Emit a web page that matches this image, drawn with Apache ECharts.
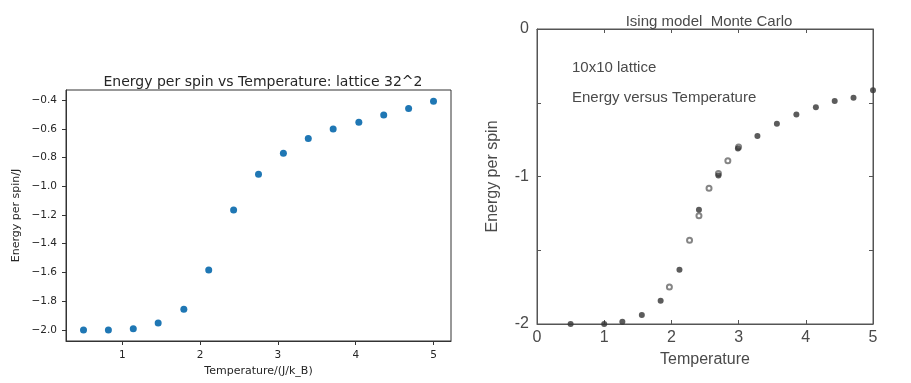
<!DOCTYPE html>
<html><head><meta charset="utf-8">
<script src="https://cdn.jsdelivr.net/npm/echarts@6/dist/echarts.min.js"></script>
<style>html,body{margin:0;padding:0;background:#fff}#c{width:911px;height:383px}</style>
</head><body><div id="c"></div>
<script>
// Left chart: lattice 32^2 simulation
var leftTemps = [0.5, 0.82, 1.14, 1.46, 1.79, 2.11, 2.43, 2.75, 3.07, 3.39, 3.71, 4.04, 4.36, 4.68, 5.0];
var leftEnergy = [-2.0, -2.0, -1.991, -1.951, -1.856, -1.583, -1.165, -0.917, -0.771, -0.667, -0.602, -0.555, -0.504, -0.458, -0.409];
var leftXTicks = [1, 2, 3, 4, 5];
var leftYTicks = [-2.0, -1.8, -1.6, -1.4, -1.2, -1.0, -0.8, -0.6, -0.4];
// Right chart: 10x10 lattice reference (filled and open markers)
var rightTempsFilled = [0.5, 1.0, 1.27, 1.56, 1.84, 2.12, 2.41, 2.70, 2.99, 3.28, 3.57, 3.86, 4.15, 4.43, 4.71, 5.0];
var rightEnergyFilled = [-2.0, -2.0, -1.984, -1.939, -1.842, -1.632, -1.225, -0.994, -0.811, -0.725, -0.642, -0.579, -0.531, -0.488, -0.466, -0.416];
var rightTempsOpen = [1.97, 2.27, 2.41, 2.56, 2.70, 2.84, 3.0];
var rightEnergyOpen = [-1.749, -1.433, -1.266, -1.080, -0.979, -0.893, -0.80];

function pairs(xs, ys){ return xs.map(function(x,i){return [x, ys[i]];}); }
function mpl(v){ return v.toFixed(1).replace('-', '\u2212'); }

var chart = echarts.init(document.getElementById('c'), null, {renderer:'canvas'});
var leftFont = 'DejaVu Sans';
var rightFont = 'Liberation Sans';
var rc = '#4a4a4a';
var lc = '#262626';
chart.setOption({
  animation:false,
  backgroundColor:'#fff',
  title:[
    {text:'Energy per spin vs Temperature: lattice 32^2', left:258, top:70, textAlign:'center',
     textStyle:{fontFamily:leftFont, fontSize:14, fontWeight:'normal', color:lc}},
    {text:'Ising model  Monte Carlo', left:704, top:9, textAlign:'center',
     textStyle:{fontFamily:rightFont, fontSize:15, fontWeight:'normal', color:rc}}
  ],
  graphic:[
    {type:'text', left:572, top:60, style:{text:'10x10 lattice', font:'15px "Liberation Sans"', fill:rc}},
    {type:'text', left:572, top:90, style:{text:'Energy versus Temperature', font:'15px "Liberation Sans"', fill:rc}}
  ],
  grid:[
    {left:66, top:90, width:385, height:251, show:true, borderColor:'#333', borderWidth:1, backgroundColor:'#fff'},
    {left:537, top:29, width:336, height:295, show:true, borderColor:'#555', borderWidth:1, backgroundColor:'transparent'}
  ],
  xAxis:[
    {gridIndex:0, type:'value', min:0.275, max:5.225,
     name:'Temperature/(J/k_B)', nameLocation:'middle', nameGap:25,
     nameTextStyle:{fontFamily:leftFont, fontSize:11, color:lc},
     axisLine:{show:true, lineStyle:{color:'#333'}},
     axisTick:{show:true, inside:false, length:4, lineStyle:{color:'#333'}, customValues:leftXTicks},
     axisLabel:{fontFamily:leftFont, fontSize:10.5, color:lc, margin:9, customValues:leftXTicks, formatter:function(v){return String(Math.round(v));}},
     splitLine:{show:false}},
    {gridIndex:1, type:'value', min:0, max:5, interval:1,
     name:'Temperature', nameLocation:'middle', nameGap:28,
     nameTextStyle:{fontFamily:rightFont, fontSize:16, color:rc},
     axisLine:{show:true, onZero:false, lineStyle:{color:'#555'}},
     axisTick:{show:true, inside:true, length:4, lineStyle:{color:'#555'}},
     axisLabel:{fontFamily:rightFont, fontSize:16, color:rc, margin:6},
     splitLine:{show:false}},
    {gridIndex:1, type:'value', position:'top', min:0, max:5, interval:1,
     axisLine:{show:true, onZero:false, lineStyle:{color:'#555'}},
     axisTick:{show:true, inside:true, length:4, lineStyle:{color:'#555'}},
     axisLabel:{show:false}, splitLine:{show:false}}
  ],
  yAxis:[
    {gridIndex:0, type:'value', min:-2.077, max:-0.33,
     name:'Energy per spin/J', nameLocation:'middle', nameGap:44,
     nameTextStyle:{fontFamily:leftFont, fontSize:11, color:lc},
     axisLine:{show:true, lineStyle:{color:'#333'}},
     axisTick:{show:true, inside:false, length:4, lineStyle:{color:'#333'}, customValues:leftYTicks},
     axisLabel:{fontFamily:leftFont, fontSize:10.5, color:lc, margin:9, customValues:leftYTicks, formatter:mpl},
     splitLine:{show:false}},
    {gridIndex:1, type:'value', min:-2, max:0, interval:0.5,
     name:'Energy per spin', nameLocation:'middle', nameGap:36,
     nameTextStyle:{fontFamily:rightFont, fontSize:16, color:rc},
     axisLine:{show:true, onZero:false, lineStyle:{color:'#555'}},
     axisTick:{show:true, inside:true, length:4, lineStyle:{color:'#555'}},
     axisLabel:{fontFamily:rightFont, fontSize:16, color:rc, margin:8,
       formatter:function(v){return (Math.abs(v - Math.round(v)) < 1e-9) ? String(Math.round(v)) : '';}},
     splitLine:{show:false}},
    {gridIndex:1, type:'value', position:'right', min:-2, max:0, interval:0.5,
     axisLine:{show:true, onZero:false, lineStyle:{color:'#555'}},
     axisTick:{show:true, inside:true, length:4, lineStyle:{color:'#555'}},
     axisLabel:{show:false}, splitLine:{show:false}}
  ],
  series:[
    {type:'scatter', xAxisIndex:0, yAxisIndex:0, data:pairs(leftTemps, leftEnergy),
     symbol:'circle', symbolSize:7, itemStyle:{color:'#1f77b4', opacity:1}},
    {type:'scatter', xAxisIndex:1, yAxisIndex:1, data:pairs(rightTempsOpen, rightEnergyOpen),
     symbol:'emptyCircle', symbolSize:5, itemStyle:{color:'#666', borderColor:'#666', borderWidth:1}},
    {type:'scatter', xAxisIndex:1, yAxisIndex:1, data:pairs(rightTempsFilled, rightEnergyFilled),
     symbol:'circle', symbolSize:6, itemStyle:{color:'#333'}}
  ]
});
</script></body></html>
